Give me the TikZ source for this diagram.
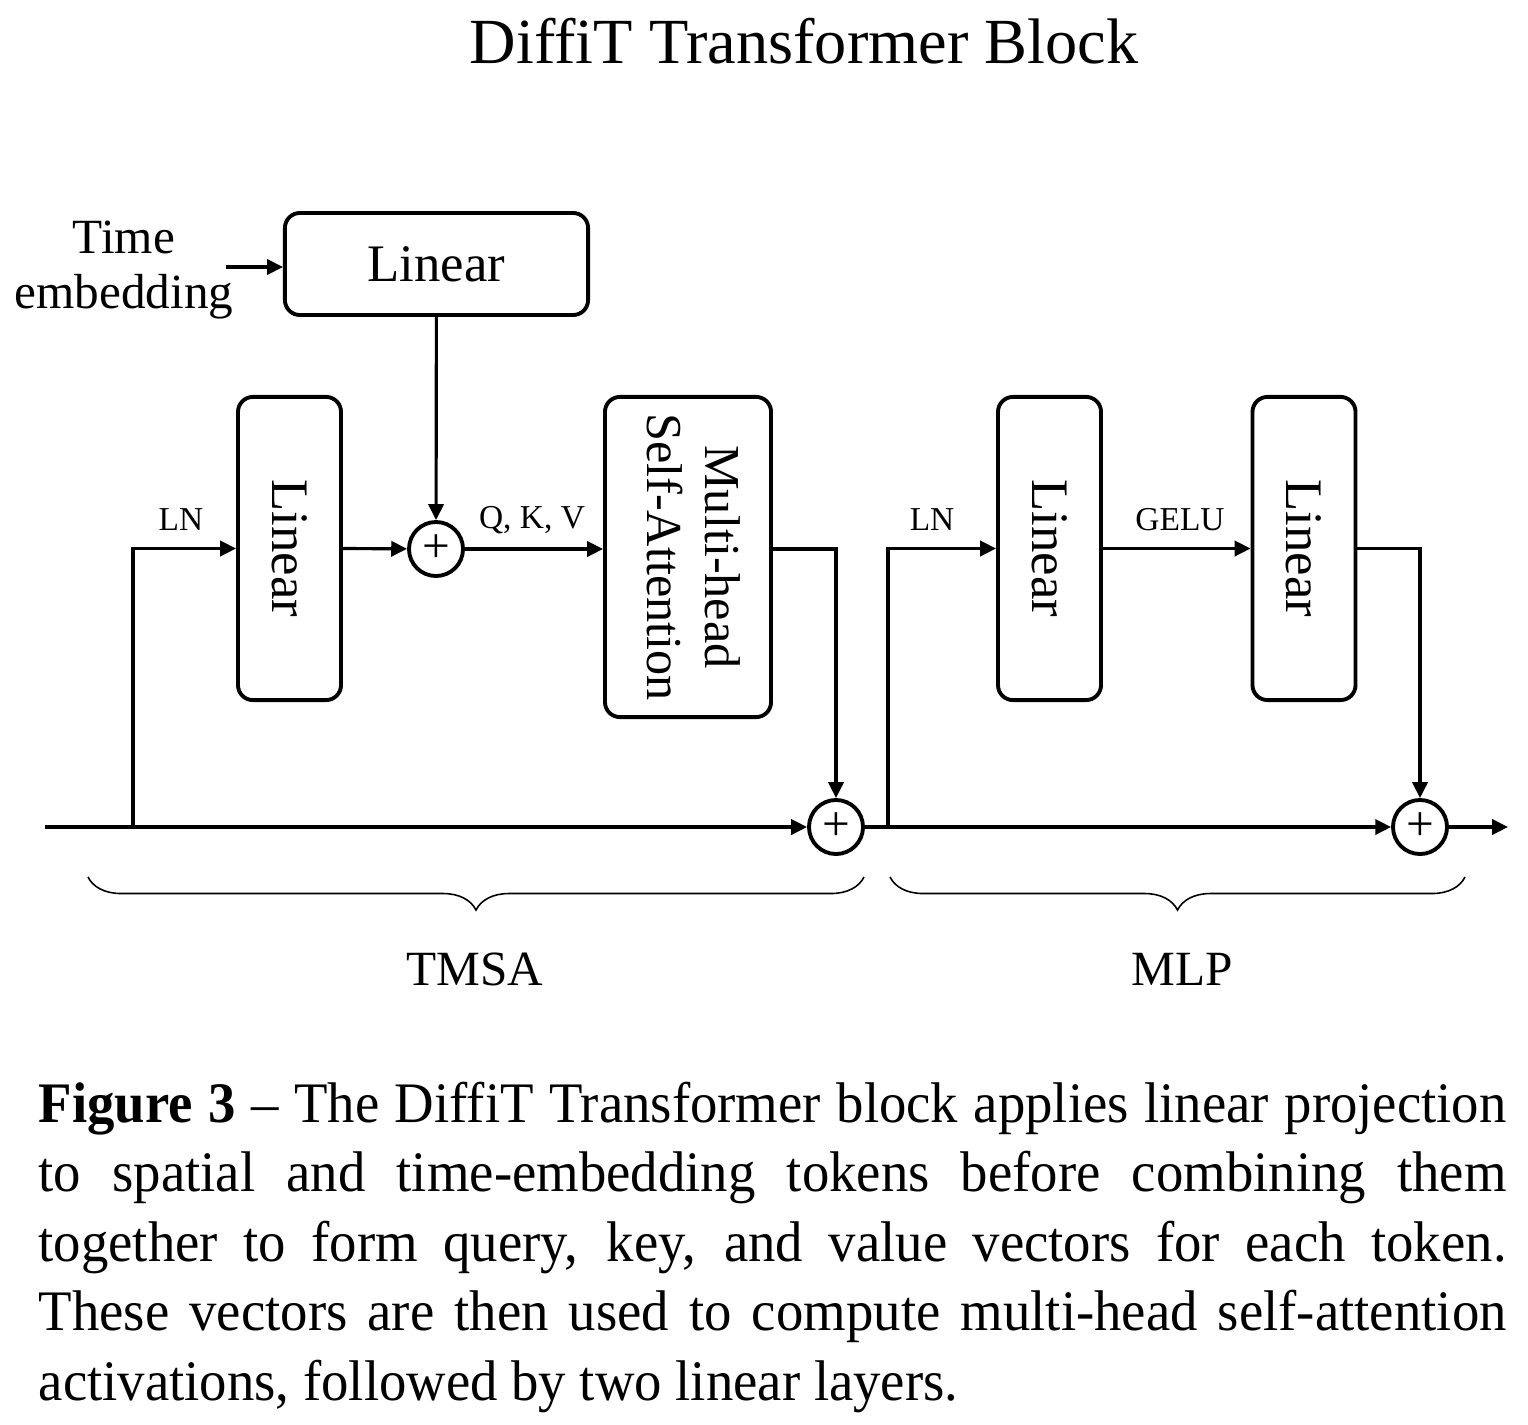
\documentclass[tikz,border=0pt]{standalone}
\usepackage{fontspec}
\setmainfont{Liberation Serif}
\newfontfamily\capfont[FakeStretch=0.955,Ligatures=TeX]{Liberation Serif}
\usepackage{graphicx}
\usetikzlibrary{arrows.meta,positioning,calc,decorations.pathreplacing}

\tikzset{
  blk/.style={draw,line width=1.1pt,rounded corners=0.15cm,inner sep=0pt,
              font=\fontsize{15}{17}\selectfont},
  hblk/.style={blk,minimum width=3.03cm,minimum height=1.02cm},
  vblk/.style={blk,minimum width=1.03cm,minimum height=3.03cm},
  addop/.style={draw,circle,line width=1.1pt,minimum size=0.54cm,inner sep=0pt,
                font=\fontsize{14}{14}\selectfont},
  arr/.style={line width=0.9pt,-{Triangle[length=4.5pt,width=4.3pt]}},
  lbl/.style={font=\fontsize{9.5}{11}\selectfont,anchor=base},
  grp/.style={decorate,decoration={brace,mirror,amplitude=0.33cm},line width=0.45pt},
  grplbl/.style={font=\fontsize{14}{16}\selectfont,anchor=base},
}

\begin{document}
\begin{tikzpicture}[x=0.01cm,y=0.01cm]
\useasboundingbox (0,0) rectangle (1528,-1424);
% Title
\node[font=\fontsize{18.3}{20}\selectfont,anchor=base] (title) at (804,-63) {DiffiT Transformer Block};

% Time embedding branch
\node[font=\fontsize{14}{15.6}\selectfont,align=center,inner sep=0pt] (time) at (124,-270) {Time\\embedding};
\node[hblk] (tlin) at (436.5,-264) {Linear};

% TMSA blocks
\node[vblk] (lin1) at (289.5,-548.5) {\rotatebox{-90}{Linear}};
\node[addop] (add1) at (436,-549) {+};
\node[blk,minimum width=1.66cm,minimum height=3.2cm,font=\fontsize{14.3}{16.5}\selectfont] (mhsa) at (688,-557)
  {\rotatebox{-90}{\begin{tabular}{@{}c@{}}Multi-head\\Self-Attention\end{tabular}}};
\node[addop] (add2) at (836,-827) {+};

% MLP blocks
\node[vblk] (lin2) at (1049.5,-548.5) {\rotatebox{-90}{Linear}};
\node[vblk] (lin3) at (1304,-548.5) {\rotatebox{-90}{Linear}};
\node[addop] (add3) at (1420,-827) {+};

% Residual stream
\coordinate (in) at (45,-827);
\coordinate (out) at (1508,-827);
\coordinate (b1) at (133,-827);
\coordinate (b2) at (888,-827);

% Connectors
\draw[arr] ($(time.east)+(-8,3)$) -- ($(tlin.west)+(0,-3)$);
\draw[arr] (tlin) -- (add1);
\draw[arr] (in) -- (add2);
\draw[arr] (b1) |- (lin1.west);
\draw[arr] (lin1.east) -- (add1);
\draw[arr] (add1) -- (add1 -| mhsa.west);
\draw[arr] (add1 -| mhsa.east) -| (add2);
\draw[arr] (add2) -- (add3);
\draw[arr] (b2) |- (lin2.west);
\draw[arr] (lin2) -- (lin3);
\draw[arr] (lin3.east) -| (add3);
\draw[arr] (add3) -- (out);

% Labels
\node[lbl] (ln1) at (181,-530) {LN};
\node[lbl] (qkv) at (532,-528) {Q, K, V};
\node[lbl] (ln2) at (932,-530) {LN};
\node[lbl] (gelu) at (1180,-530) {GELU};

% Braces
\draw[grp] (88,-877) -- (864,-877);
\node[grplbl] (tmsa) at (475,-985) {TMSA};
\draw[grp] (890,-877) -- (1465,-877);
\node[grplbl] (mlp) at (1182,-985) {MLP};

% Caption
\node[anchor=north west,inner sep=0pt,text width=14.67cm,align=justify,
      font=\capfont\fontsize{16.3}{19.8}\selectfont] (cap) at (38,-1081)
  {\hyphenpenalty=10000\relax
   \textbf{Figure 3} -- The DiffiT Transformer block applies linear projection\linebreak
   to spatial and time-embedding tokens before combining them\linebreak
   together to form query, key, and value vectors for each token.\linebreak
   These vectors are then used to compute multi-head self-attention\linebreak
   activations, followed by two linear layers.};
\end{tikzpicture}
\end{document}
